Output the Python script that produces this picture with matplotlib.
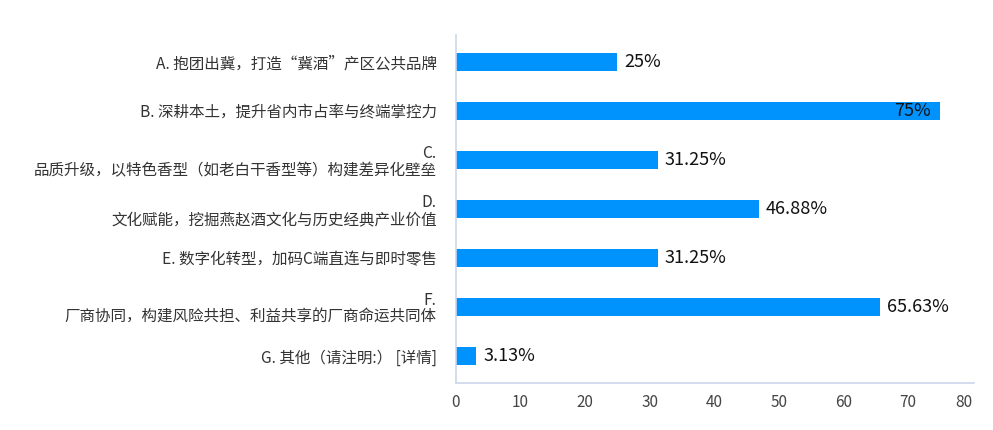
import matplotlib
matplotlib.use('Agg')
import matplotlib.pyplot as plt

plt.rcParams['font.family'] = ['Noto Sans CJK SC', 'DejaVu Sans']

# data
labels = [
    'A. 抱团出冀，打造“冀酒”产区公共品牌',
    'B. 深耕本土，提升省内市占率与终端掌控力',
    'C.\n品质升级，以特色香型（如老白干香型等）构建差异化壁垒',
    'D.\n文化赋能，挖掘燕赵酒文化与历史经典产业价值',
    'E. 数字化转型，加码C端直连与即时零售',
    'F.\n厂商协同，构建风险共担、利益共享的厂商命运共同体',
    'G. 其他（请注明:） [详情]',
]
values = [25, 75, 31.25, 46.88, 31.25, 65.63, 3.13]
value_text = ['25%', '75%', '31.25%', '46.88%', '31.25%', '65.63%', '3.13%']
xticks = [0, 10, 20, 30, 40, 50, 60, 70, 80]

bar_color = '#0093fd'
axis_color = '#ccd6eb'

fig = plt.figure(figsize=(9.93, 4.30), dpi=100)
ax = fig.add_axes([0.4592, 0.1093, 0.5217, 0.8093])

ypos = list(range(len(labels)))
ax.barh(ypos, values, height=0.37, color=bar_color)

for y, v, t in zip(ypos, values, value_text):
    if v > 70:
        ax.annotate(t, (v, y), xytext=(-7, 0), textcoords='offset points',
                    ha='right', va='center', fontsize=13, color='#111111')
    else:
        ax.annotate(t, (v, y), xytext=(5, 0), textcoords='offset points',
                    ha='left', va='center', fontsize=13, color='#111111')

ax.set_yticks(ypos)
ax.set_yticklabels(labels, fontsize=11.2, color='#333333', linespacing=1.0,
                   ha='right', multialignment='right')
ax.set_xticks(xticks)
xt = ax.set_xticklabels([str(v) for v in xticks], fontsize=11, color='#444444')
xt[-1].set_horizontalalignment('right')
ax.set_xlim(0, 80.2)
ax.set_ylim(6.55, -0.55)

ax.tick_params(axis='both', length=0)
ax.tick_params(axis='y', pad=14)
ax.tick_params(axis='x', pad=8)
for s in ['top', 'right']:
    ax.spines[s].set_visible(False)
ax.spines['left'].set_color(axis_color)
ax.spines['bottom'].set_color(axis_color)
ax.spines['left'].set_linewidth(1.2)
ax.spines['bottom'].set_linewidth(1.2)

fig.savefig('out.png', dpi=100)
